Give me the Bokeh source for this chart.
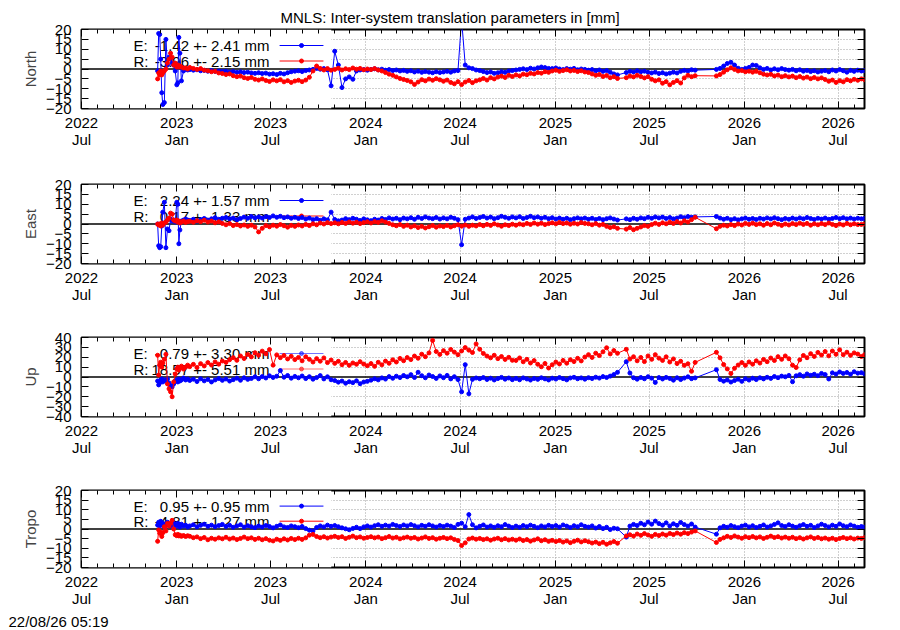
import numpy as np
import pandas as pd
from bokeh.plotting import figure
from bokeh.models import (FixedTicker, DatetimeTickFormatter, DatetimeAxis,
                          LinearAxis, Title, Range1d)
from bokeh.layouts import column
from bokeh.embed import file_html
from bokeh.resources import INLINE
from bokeh.core.properties import value

TITLE = "MNLS: Inter-system translation parameters in [mm]"
STAMP = "22/08/26 05:19"

COMPONENTS = ["North", "East", "Up", "Tropo"]
Y_LIMITS = [(-20, 20), (-20, 20), (-40, 40), (-20, 20)]
Y_STEPS = [5, 5, 10, 5]
STATS_E = ["-1.42 +- 2.41 mm", "2.24 +- 1.57 mm", "-0.79 +- 3.30 mm", "0.95 +- 0.95 mm"]
STATS_R = ["-3.96 +- 2.15 mm", "0.17 +- 1.33 mm", "18.57 +- 5.51 mm", "-4.81 +- 1.27 mm"]

# sample dates: first weeks (days after 2022-11-25), then weekly segments
EARLY_START = "2022-11-25"
EARLY_DAYS = [0, 2, 4, 6, 8, 10, 13, 16, 19, 22, 25, 28, 31, 34, 37, 39, 41, 43, 46, 50, 54, 58]
WEEKLY_SEGMENTS = [("2023-01-26", "2025-05-01"), ("2025-05-18", "2025-09-28"),
                   ("2025-11-08", "2026-08-15")]
LAST_DAY = "2026-08-21"

NORTH_E = [
    -1, 18, 17.5, 5, -12, -18, -17, 15, 2, 6, 5, 3, 2, -1, -8, -7, 16, 8, -6, -1, 0, -0.5,
    -0.3, -0.6, -0.4, -0.9, -0.7, -1.1, -0.8, -1.2, -1.0, -1.3,
    -1.1, -1.5, -1.3, -1.7, -1.4, -1.8, -1.6, -2.0, -2.2, -1.9,
    -2.3, -2.1, -2.6, -2.4, -2.8, -2.2, -2.5, -1.9, -1.4, -1.1,
    -0.9, -1.3, -0.8, -0.5, -0.2, 0.3, -0.1, 0.2, -0.4, -8.5,
    9.0, 2.0, -9.4, -5.0, -4.0, -5.2, -1.0, -0.5, -0.3, -0.6,
    -0.2, 0.1, -0.4, -0.1, -0.6, -0.3, -0.8, -0.5, -1.0, -0.7,
    -1.2, -0.9, -1.5, -1.1, -1.7, -1.3, -1.6, -1.9, -1.4, -1.8,
    -1.5, -1.2, -1.6, -1.0, -0.8, 25.0, 2.0, 0.6, 0.2, -0.5,
    -0.8, -1.3, -1.8, -1.5, -2.2, -1.9, -1.4, -1.7, -1.0, -0.8,
    -0.5, -0.2, 0.1, -0.3, 0.4, 0.0, 0.6, 1.0, 0.7, 0.3,
    0.2, 0.5, 0.0, -0.3, 0.2, -0.1, 0.3, -0.4, 0.0, -0.2,
    -0.6, -0.3, -0.9, -0.5, -1.2, -0.8, -1.6, -2.5, -3.0,
    -1.8, -1.2, -1.5, -0.9, -1.4, -1.1, -1.7, -2.0, -1.6, -2.3,
    -1.9, -2.5, -2.1, -1.6, -2.0, -1.2, -0.7, -1.0, -0.4, -0.6,
    -0.2, 0.3, 1.5, 2.8, 3.4, 2.0, 0.4, -0.2, 0.3, 0.8,
    2.0, 1.8, 0.6, -0.2, 0.3, -0.5, 0.1, -0.4, 0.2, -0.3,
    -0.6, -0.2, -0.9, -0.4, -1.1, -0.7, -1.3, -0.9, -1.5, -1.1,
    -0.8, -1.4, -0.5, -1.0, -0.3, -0.9, -1.6, -0.7, -1.2, -0.6,
    -1.0, -0.8,
]
NORTH_R = [
    -5, -2, -3, -1, -3, -2, -1, 0, 3, 5, 8, 6, 2, 3, 1, 2, 1, 1.5, 1, 0.5, 0.5, 0,
    0.8, 0.3, -0.2, 0.2, -0.6, -0.9, -1.4, -1.2, -2.0, -2.3,
    -2.8, -2.5, -3.4, -3.9, -3.6, -4.4, -4.8, -4.3, -5.2, -5.6,
    -5.0, -5.8, -6.3, -5.5, -6.0, -5.4, -6.5, -5.9, -6.8, -6.1,
    -5.7, -6.4, -5.6, -4.2, -1.0, 1.5, 0.3, -0.5, 0.2, -0.6,
    -0.2, 0.4, -0.5, 0.1, -0.3, 0.5, -0.1, 0.3, -0.4, 0.0,
    -0.3, 0.2, -0.5, -1.0, -1.8, -2.6, -3.2, -4.0, -4.8, -5.3,
    -5.8, -6.5, -7.8, -6.6, -5.4, -6.0, -5.1, -5.7, -4.9, -5.5,
    -6.2, -5.6, -6.8, -7.5, -6.4, -7.9, -6.6, -5.8, -6.9, -6.0,
    -5.5, -4.8, -5.6, -4.4, -5.0, -4.1, -3.6, -4.3, -3.2, -3.8,
    -3.0, -3.5, -2.6, -2.9, -2.2, -2.5, -1.8, -2.1, -1.4, -1.7,
    -1.0, -0.6, -1.2, -0.8, -0.4, -1.0, -0.7, -1.3, -0.9, -1.5,
    -1.8, -2.5, -3.2, -2.8, -3.8, -3.3, -4.4, -3.9, -4.8,
    -4.4, -3.6, -4.0, -3.2, -3.8, -4.5, -3.9, -5.2, -6.0, -5.5,
    -7.2, -6.4, -8.0, -6.8, -5.9, -7.1, -4.5, -3.2, -3.9, -3.4,
    -3.5, -2.8, -1.6, -0.4, 0.6, -0.2, -1.0, -0.8, -1.4, -1.1,
    -1.6, -1.2, -1.9, -2.6, -3.0, -2.7, -3.5, -3.1, -3.9, -3.4,
    -4.0, -3.6, -4.4, -3.8, -4.6, -4.1, -4.9, -4.3, -5.0, -4.5,
    -5.3, -6.2, -5.6, -6.8, -5.9, -6.5, -5.4, -6.0, -5.2, -5.7,
    -5.0, -5.4,
]
EAST_E = [
    0, -11, -12, -11.5, -1, 6, 11, -12, -2.5, -3.4, 2.5, 1.5, 2, 1, 11, 10, -10, -3, 1.5, 2, 2.5, 2,
    1.8, 2.4, 1.5, 2.2, 2.8, 2.0, 2.6, 3.2, 2.4, 2.9,
    3.3, 2.6, 3.0, 2.2, 2.8, 3.5, 2.9, 3.8, 3.1, 3.6,
    3.0, 3.7, 3.3, 4.1, 3.4, 3.9, 3.2, 3.6, 2.9, 3.4,
    2.8, 3.3, 2.5, 3.0, 2.2, 2.7, 1.9, 2.6, 2.1, 6.0,
    2.3, 1.6, 2.0, 2.7, 2.2, 2.9, 2.4, 1.8, 2.6, 2.1,
    1.7, 2.4, 2.0, 2.8, 2.3, 3.1, 2.5, 2.9, 2.2, 3.0,
    2.6, 3.2, 2.4, 3.4, 2.8, 3.6, 3.0, 2.7, 3.3, 2.5,
    3.1, 2.6, 3.4, 2.9, 2.2, -10.5, 2.4, 3.0, 3.6, 2.8,
    3.3, 3.8, 3.0, 3.5, 2.7, 3.2, 3.9, 3.4, 2.9, 3.6,
    3.1, 3.7, 2.8, 3.3, 3.9, 3.2, 3.6, 2.9, 3.4, 2.7,
    3.2, 2.5, 3.0, 2.4, 2.9, 2.2, 2.7, 3.1, 2.6, 3.0,
    2.4, 2.9, 2.3, 2.8, 2.2, 2.7, 3.1, 2.5, 2.0,
    2.6, 2.2, 2.9, 2.4, 3.1, 2.7, 3.4, 2.9, 3.6, 3.1,
    3.5, 2.8, 3.3, 2.6, 3.0, 3.7, 3.2, 3.8, 3.4, 3.6,
    3.8, 3.0, 2.4, 2.9, 2.2, 2.7, 2.1, 2.6, 3.0, 2.4,
    2.8, 2.3, 2.9, 2.5, 3.1, 2.6, 3.2, 2.7, 2.2, 2.8,
    2.4, 3.0, 2.5, 3.1, 2.6, 3.3, 2.8, 2.3, 2.9, 2.5,
    3.0, 2.4, 2.8, 3.3, 2.7, 3.2, 2.6, 3.0, 2.5, 2.9,
    2.6, 2.8,
]
EAST_R = [
    0, -0.5, 0, -1, 0.5, -0.5, 0.5, 1, 2, 3, 5.5, 5, 2, 1.5, 2, 1, 1.5, 0.5, 1, 1.5, 0.8, 1.2,
    1.4, 0.9, 1.7, 1.2, 1.9, 1.0, 1.5, 0.6, 1.1, 0.3,
    -0.4, 0.2, -0.8, -0.3, -1.0, -0.5, -1.2, -0.6, -1.5, -4.0,
    -2.2, -0.8, -1.4, -0.6, -1.1, -0.3, -0.9, -1.6, -0.7, -1.2,
    -0.5, -1.0, -0.2, -0.8, 0.1, -0.4, 0.5, 0.0, 0.7, 0.2,
    0.6, 0.1, 0.8, 0.3, 1.0, 0.4, 0.9, 0.2, 0.7, 1.1,
    0.5, 1.2, 0.8, 1.6, 1.0, 0.3, -0.4, -0.9, -0.3, -1.2,
    -0.6, -1.5, -0.9, -1.8, -1.2, -2.0, -1.4, -0.8, -1.6, -1.0,
    -1.3, -0.7, -1.5, -0.9, -0.4, -1.1, -0.5, -1.2, -0.6, -1.0,
    -0.3, -0.9, -0.2, -0.7, 0.1, -0.5, -1.1, -0.4, -0.8, -0.1,
    -0.6, 0.0, -0.4, 0.3, -0.2, 0.5, -0.1, 0.4, -0.3, 0.2,
    0.6, 0.1, 0.8, 0.2, 0.5, -0.1, 0.4, 0.0, 0.7, 0.3,
    0.1, -0.4, 0.2, -0.6, -0.2, -1.2, -1.8, -1.4, -2.2,
    -2.6, -1.8, -2.9, -2.2, -1.5, -0.8, -1.2, -0.3, 0.4, -0.2,
    0.6, 0.1, 0.9, 0.3, 1.2, 0.5, 1.6, 1.0, 2.2, 3.4,
    -2.4, -1.2, -0.6, -1.0, -0.3, -0.8, 0.0, -0.5, 0.3, -0.2,
    0.4, -0.3, 0.1, -0.6, 0.2, -0.4, 0.5, -0.1, -0.7, 0.0,
    -0.5, 0.2, -0.3, 0.4, -0.2, 0.3, -0.6, 0.1, -0.4, 0.2,
    -0.3, 0.5, -0.2, -0.8, 0.0, -0.5, 0.3, -0.4, 0.1, -0.3,
    -0.2, 0.0,
]
UP_E = [
    -4, -8, -6, -3, -2, -5, -3, -4, -2, -6, -9, -10, -7, -4, -3, -5, -2, -4, -3, -1, -3, -2,
    -3.5, -2.2, -4.6, -1.8, -3.9, -2.5, -5.0, -3.0, -1.6, -3.4,
    -2.0, -4.1, -2.7, -1.2, -3.3, -0.8, -2.4, -1.5, 0.2, -1.8,
    0.4, -1.0, 1.2, -0.5, 0.8, 6.5, -0.2, 1.5, -1.2, 0.6,
    -0.8, 1.0, -1.6, 0.3, -2.2, -0.6, 1.4, -1.9, 0.2, -2.8,
    -3.6, -5.2, -4.1, -6.3, -4.8, -5.7, -3.9, -6.8, -5.1, -4.4,
    -3.2, -1.8, -2.9, -0.9, -2.1, 0.4, -1.3, 0.8, -0.6, 1.5,
    0.2, 2.4, -0.5, 4.8, 1.3, -0.8, 2.0, 0.5, -1.4, 1.1,
    -0.7, 1.6, -1.9, 0.3, -2.6, -15.0, 12.5, -17.0, -2.4, -1.0,
    -1.8, -0.6, -2.5, -1.2, -3.0, -1.6, -0.4, -2.2, -1.0, -2.7,
    -1.4, -2.8, -0.9, -2.0, -3.1, -1.5, -2.4, -0.8, -1.9, -3.0,
    -1.2, -2.1, -0.6, -1.7, -2.9, -1.0, -0.3, -1.8, -0.9, -2.2,
    -0.7, -1.6, -0.2, -1.1, 0.4, -0.5, 0.9, 2.5, 4.7,
    15.5, 4.0, -0.8, -2.2, -0.5, -1.8, 0.3, -1.2, -5.5, -0.6,
    -2.0, -0.4, -1.5, -3.2, -0.8, -2.6, -1.1, 0.2, -1.7, -0.9,
    7.4, -2.5, -4.2, -3.0, -5.1, -3.6, -2.2, -4.4, -1.8, -3.1,
    -1.2, -2.6, -0.8, -1.9, -0.3, -1.4, 0.5, -0.7, 0.9, 0.2,
    1.6, -4.8, 1.2, 2.4, 0.8, 3.1, 1.7, 2.8, 1.3, 3.6,
    2.5, -2.0, 4.2, 3.0, 5.1, 3.6, 4.6, 2.8, 5.3, 3.9,
    4.4, 3.2,
]
UP_R = [
    22, 2, 12, 15, 10, 14, 18, 23, -7, -12, -15, -20, -5, 3, 8, 10, 7, 9, 11, 8, 10, 12,
    10.5, 12.8, 9.6, 13.5, 11.2, 14.6, 12.1, 15.3, 13.0, 16.2,
    14.8, 17.5, 19.6, 16.9, 21.3, 18.7, 22.8, 20.4, 24.6, 22.0,
    26.2, 23.5, 27.8, 12.0, 22.4, 19.6, 21.8, 18.3, 20.9, 17.6,
    19.8, 16.4, 20.5, 17.9, 15.2, 18.6, 16.0, 19.3, 14.6, 17.2,
    13.8, 15.9, 12.4, 14.7, 11.8, 14.2, 12.9, 15.5, 13.1, 11.4,
    13.6, 10.8, 14.9, 12.3, 16.1, 13.9, 17.4, 15.2, 18.8, 16.5,
    19.7, 17.6, 21.2, 19.0, 23.1, 20.6, 24.4, 37.0, 25.8, 22.9,
    26.7, 24.1, 27.9, 25.2, 22.6, 26.4, 29.8, 27.2, 24.8, 33.5,
    28.1, 23.9, 21.2, 19.4, 22.0, 18.6, 20.7, 17.8, 19.9, 16.9,
    16.8, 19.3, 15.4, 17.9, 14.2, 16.6, 12.9, 10.4, 13.7, 9.1,
    12.4, 15.1, 13.2, 16.8, 14.0, 17.5, 15.6, 18.9, 16.3, 20.2,
    22.6, 19.8, 24.1, 21.7, 25.5, 29.6, 23.4, 26.8, 24.0,
    28.0, 18.2, 20.5, 16.4, 19.8, 15.6, 21.3, 17.9, 22.6, 19.1,
    16.8, 20.4, 15.2, 18.3, 13.6, 15.9, 11.8, 13.4, 5.8, 14.8,
    25.0, 19.4, 12.6, 8.2, 3.5, 8.8, 12.1, 14.6, 11.8, 15.2,
    13.0, 16.4, 14.1, 17.8, 15.5, 19.2, 16.7, 20.6, 17.9, 21.3,
    18.5, 12.0, 9.6, 17.4, 21.8, 19.5, 23.6, 20.8, 24.9, 22.2,
    25.8, 21.4, 26.3, 23.0, 27.5, 22.6, 25.1, 21.9, 24.4, 23.2,
    20.8, 22.5,
]
TROPO_E = [
    2, 3.5, 1.5, 4, 2.5, 3, 1, 2, 3.5, 2, 1.5, 2.5, 3, 2, 1.5, 3, 2, 1, 2.5, 1.5, 2, 1,
    1.6, 2.2, 1.1, 1.9, 2.5, 1.4, 2.0, 1.2, 1.8, 2.4,
    1.3, 1.9, 0.9, 1.6, 2.2, 1.0, 1.7, 1.2, 0.7, 1.5,
    1.0, 1.8, 1.3, 0.6, 1.4, 2.1, 1.1, 0.8, 1.6, 1.2,
    0.7, 1.3, 0.2, -0.6, -1.0, 0.8, 1.6, 1.1, 2.0, 1.4,
    1.8, 1.2, 0.6, 0.1, -0.4, 0.3, 0.9, 0.2, 1.1, 1.6,
    1.0, 1.7, 2.2, 1.4, 2.0, 1.5, 2.4, 1.8, 1.3, 2.1,
    1.6, 2.3, 1.7, 1.1, 1.9, 1.4, 2.2, 1.6, 1.0, 1.8,
    1.3, 2.0, 1.5, 0.8, 2.4, 3.0, 1.2, 7.5, 2.2, 0.6,
    1.4, 2.1, 1.0, 1.6, 0.9, 1.7, 1.2, 2.3, 1.5, 0.8,
    1.5, 0.9, 1.8, 1.2, 2.0, 1.4, 0.7, 1.6, 1.1, 1.9,
    1.3, 1.8, 1.0, 2.1, 1.5, 0.8, 1.7, 1.2, 2.2, 1.4,
    1.0, 1.6, 0.5, 1.3, 0.2, 0.9, -0.3, 0.4, 0.1,
    -4.2, 1.5, 2.4, 1.8, 3.0, 2.2, 3.6, 2.5, 4.1, 2.8,
    2.0, 3.2, 1.6, 2.7, 1.9, 3.4, 2.3, 1.5, 2.6, 1.0,
    -2.7, 0.6, 1.4, 0.9, 1.8, 1.2, 0.7, 1.5, 2.0, 1.1,
    1.7, 0.8, 1.4, 2.1, 1.0, 1.6, 2.4, 3.2, 1.8, 1.3,
    2.2, 1.5, 0.9, 1.7, 2.3, 1.4, 1.9, 0.8, 1.6, 2.5,
    1.8, 1.1, 2.0, 1.4, 2.6, 1.7, 1.2, 2.1, 1.5, 0.9,
    1.3, 1.0,
]
TROPO_R = [
    -6.4, -0.5, -2.2, -1.5, -3.9, -2.0, 1.2, -1.0, 2.9, 1.5, 3.0, 4.5, 0.0, -3.0, -3.5, -2.8,
    -3.6, -3.2, -3.8, -3.4, -3.9, -3.5,
    -3.8, -4.5, -4.1, -5.0, -4.4, -5.6, -4.8, -5.3, -4.6, -5.1,
    -4.3, -5.2, -4.7, -5.5, -4.9, -4.2, -5.0, -4.6, -5.4, -4.8,
    -5.6, -5.0, -5.8, -6.2, -5.3, -5.9, -5.1, -5.7, -4.9, -5.5,
    -4.8, -5.4, -4.6, -3.2, -2.8, -3.9, -4.5, -4.0, -4.7, -4.2,
    -3.8, -4.4, -4.0, -4.9, -4.3, -3.7, -4.5, -4.1, -4.8, -4.4,
    -4.0, -4.6, -4.2, -5.0, -4.5, -3.9, -4.7, -4.3, -5.1, -4.6,
    -4.2, -4.8, -4.4, -5.2, -4.7, -4.1, -4.9, -4.5, -5.3, -4.8,
    -4.4, -5.0, -4.6, -5.4, -6.0, -8.6, -7.2, -5.2, -4.7, -5.3,
    -4.9, -5.5, -5.1, -5.8, -5.2, -4.8, -5.6, -5.0, -5.7, -5.3,
    -5.8, -5.2, -6.0, -5.5, -6.3, -5.7, -5.1, -6.1, -5.6, -6.4,
    -5.9, -6.5, -6.0, -6.8, -6.2, -7.1, -6.4, -5.8, -6.7, -6.1,
    -6.6, -7.3, -6.8, -7.6, -6.9, -7.9, -7.2, -6.5, -7.4,
    -3.6, -3.0, -3.7, -2.6, -3.3, -2.4, -3.1, -3.8, -2.8, -3.4,
    -2.6, -3.2, -2.3, -2.9, -2.1, -2.7, -1.9, -2.4, -1.6, -1.0,
    -7.0, -5.4, -4.6, -3.8, -4.4, -3.6, -4.2, -4.8, -4.0, -4.5,
    -3.9, -4.6, -4.1, -4.9, -4.3, -3.7, -4.4, -4.0, -4.7, -4.2,
    -4.8, -4.3, -5.0, -4.5, -5.2, -4.6, -4.1, -4.9, -4.4, -5.1,
    -4.7, -5.3, -4.8, -5.5, -4.9, -4.4, -5.0, -4.6, -5.2, -4.7,
    -4.9, -4.5,
]

SERIES_E = [NORTH_E, EAST_E, UP_E, TROPO_E]
SERIES_R = [NORTH_R, EAST_R, UP_R, TROPO_R]

# ---------------------------------------------------------------- dates
dates = [pd.Timestamp(EARLY_START) + pd.Timedelta(days=d) for d in EARLY_DAYS]
for a, b in WEEKLY_SEGMENTS:
    dates += list(pd.date_range(a, b, freq="7D"))
dates.append(pd.Timestamp(LAST_DAY))
dates = pd.DatetimeIndex(dates)
date_ms = (dates.asi8 // 10**6).astype(float)

X_START = pd.Timestamp("2022-07-01")
X_END = pd.Timestamp("2026-08-21")
x0 = X_START.value / 1e6
x1 = X_END.value / 1e6


def xfrac(f):
    return x0 + f * (x1 - x0)


major_ms = [t.value / 1e6 for t in pd.date_range("2022-07-01", "2026-07-01", freq="6MS")]
minor_ms = [t.value / 1e6 for t in pd.date_range("2022-07-01", "2026-08-01", freq="MS")]

FONT = "Liberation Sans"
FS = "15px"
BLUE = "#0000ff"
RED = "#ff0000"
FRAME_H = 79
BORDERS = [(29, 55), (21, 52), (22, 52), (22, 61)]

fmt_str = "%Y\n%b"


def x_formatter():
    return DatetimeTickFormatter(
        microseconds=fmt_str, milliseconds=fmt_str, seconds=fmt_str, minsec=fmt_str,
        minutes=fmt_str, hourmin=fmt_str, hours=fmt_str, days=fmt_str,
        months=fmt_str, years=fmt_str)


def style_axis(ax, hide_labels=False):
    ax.axis_line_color = None
    ax.major_tick_in = 7
    ax.major_tick_out = 0
    ax.minor_tick_in = 4
    ax.minor_tick_out = 0
    ax.major_tick_line_color = "black"
    ax.minor_tick_line_color = "black"
    ax.major_label_text_font = FONT
    if hide_labels:
        ax.major_label_text_font_size = "1px"
        ax.major_label_text_color = None
        ax.major_label_text_alpha = 0
        ax.major_label_standoff = 0
    else:
        ax.major_label_text_font_size = FS
        ax.major_label_text_color = "black"


panels = []
for i, name in enumerate(COMPONENTS):
    ylo, yhi = Y_LIMITS[i]
    top, bottom = BORDERS[i]
    p = figure(width=888, height=top + FRAME_H + bottom, x_axis_type="datetime",
               x_range=Range1d(x0, x1), y_range=Range1d(ylo, yhi),
               output_backend="svg", toolbar_location=None,
               min_border_left=81, min_border_right=24,
               min_border_top=top, min_border_bottom=bottom)
    p.outline_line_color = "black"
    p.outline_line_width = 2
    p.background_fill_color = "white"
    p.border_fill_color = "white"

    xt = FixedTicker(ticks=major_ms, minor_ticks=minor_ms)
    yticks = list(range(ylo, yhi + 1, Y_STEPS[i]))
    yt = FixedTicker(ticks=yticks)

    xa = p.xaxis[0]
    xa.ticker = xt
    xa.formatter = x_formatter()
    style_axis(xa)
    xa.major_label_standoff = 5
    xa.major_label_text_line_height = 1.0

    ya = p.yaxis[0]
    ya.ticker = yt
    style_axis(ya)
    ya.minor_tick_line_color = None
    ya.major_label_standoff = 10
    ya.axis_label = name
    ya.axis_label_text_font = FONT
    ya.axis_label_text_font_size = FS
    ya.axis_label_text_font_style = "normal"
    ya.axis_label_standoff = 4

    top_ax = DatetimeAxis(ticker=xt)
    style_axis(top_ax, hide_labels=True)
    p.add_layout(top_ax, "above")
    right_ax = LinearAxis(ticker=yt)
    style_axis(right_ax, hide_labels=True)
    right_ax.minor_tick_line_color = None
    p.add_layout(right_ax, "right")

    p.xgrid.ticker = xt
    p.ygrid.ticker = FixedTicker(ticks=[t for t in yticks if t not in (ylo, yhi, 0)])
    for g in (p.xgrid, p.ygrid):
        g.grid_line_color = "#a0a0a0"
        g.grid_line_dash = "1 2"
        g.grid_line_width = 1

    # key area: opaque white box hiding the grid, zero line, key texts
    p.quad(left=[x0], right=[xfrac(0.319)], bottom=[ylo], top=[yhi],
           fill_color="white", line_color=None)
    p.line([x0, x1], [0, 0], line_color="black", line_width=1.5)

    span = yhi - ylo
    ye = yhi - span * 16 / FRAME_H
    yr = yhi - span * 31.5 / FRAME_H
    p.text(x=[xfrac(0.0664)] * 2, y=[ye, yr], text=["E:", "R:"],
           text_align="left", text_baseline="middle",
           text_font=value(FONT), text_font_size=FS, text_color="black")
    p.text(x=[xfrac(0.240)] * 2, y=[ye, yr], text=[STATS_E[i], STATS_R[i]],
           text_align="right", text_baseline="middle",
           text_font=value(FONT), text_font_size=FS, text_color="black")
    key_alpha = 0.55 if name == "Up" else 1.0
    for yy, col in ((ye, BLUE), (yr, RED)):
        p.line([xfrac(0.253), xfrac(0.309)], [yy, yy], line_color=col,
               line_width=1, line_alpha=key_alpha)
        p.scatter([xfrac(0.281)], [yy], size=4, marker="circle",
                  color=col, alpha=key_alpha)

    for vals, col in ((SERIES_E[i], BLUE), (SERIES_R[i], RED)):
        p.line(date_ms, vals, line_color=col, line_width=1)
        p.scatter(date_ms, vals, size=4, marker="circle", color=col)

    if i == 0:
        p.add_layout(Title(text=TITLE, align="left", offset=199, standoff=8,
                           text_font=FONT, text_font_size=FS,
                           text_font_style="normal", text_color="black"), "above")
    if i == len(COMPONENTS) - 1:
        p.add_layout(Title(text=STAMP, align="left", offset=-73, standoff=2,
                           text_font=FONT, text_font_size=FS,
                           text_font_style="normal", text_color="black"), "below")
    panels.append(p)

layout = column(*panels)
open("out.html", "w").write(file_html(layout, INLINE))
